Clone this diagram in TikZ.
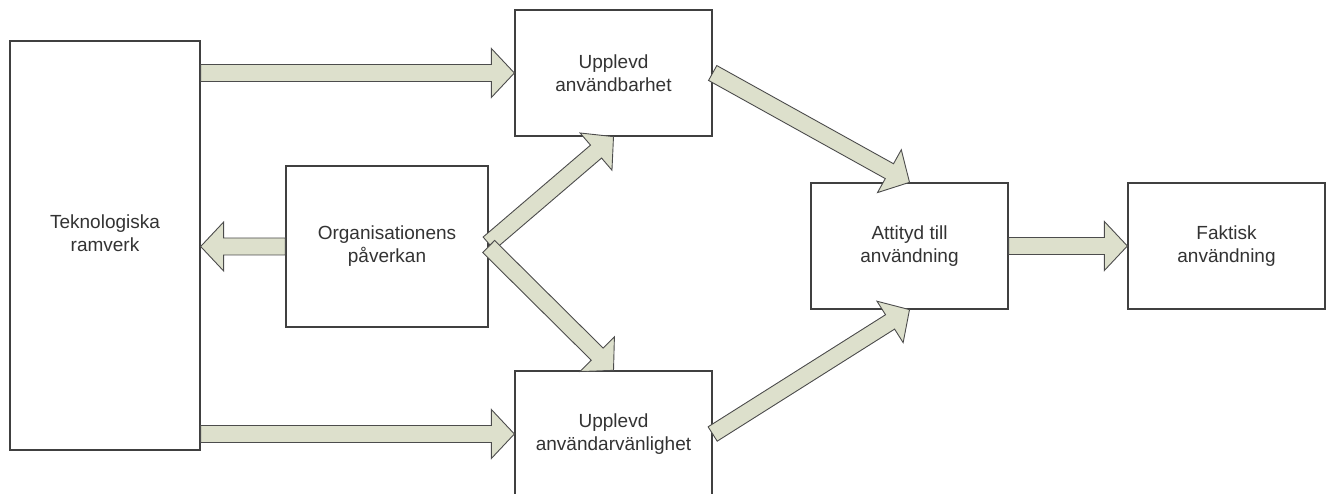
\documentclass[tikz,border=0pt]{standalone}
\usepackage{fontspec}
\setmainfont{Liberation Sans}
\usetikzlibrary{calc}

\definecolor{arrowfill}{RGB}{221,224,204}
\definecolor{boxline}{RGB}{64,64,64}

\newcommand{\fatarrow}[2]{%
	\coordinate (fabase) at ($(#2)!23pt!(#1)$);
	\filldraw[fatarrow] ($(#1)!8.5pt!90:(#2)$) -- ($(fabase)!8.5pt!90:(#2)$) -- ($(fabase)!24.5pt!90:(#2)$) -- (#2)
		-- ($(fabase)!24.5pt!-90:(#2)$) -- ($(fabase)!8.5pt!-90:(#2)$) -- ($(#1)!8.5pt!-90:(#2)$) -- cycle;
}

\begin{document}
\begin{tikzpicture}[x=1pt, y=1pt,
	boxtext/.style={align=center, font=\fontsize{19}{23}\selectfont, text=black!80},
	box/.style={boxtext, draw=boxline, line width=1.3pt, fill=white, minimum width=197pt, minimum height=126pt},
	fatarrow/.style={fill=arrowfill, draw=black!70, line width=0.9pt, line join=miter}]
	\useasboundingbox (0,0) rectangle (1327,494);

	\node[box, minimum width=190pt, minimum height=409pt] (tek) at (105,248.5) {};
	\node[boxtext] (tektext) at (105,261) {Teknologiska\\ramverk};
	\node[box, minimum width=202pt, minimum height=161pt] (org) at (387,247.5) {Organisationens\\påverkan};
	\node[box] (ua) at (613.5,421) {Upplevd\\användbarhet};
	\node[box] (uv) at (613.5,60) {Upplevd\\användarvänlighet};
	\node[box] (att) at (909.5,248) {Attityd till\\användning};
	\node[box] (fak) at (1226.5,248) {Faktisk\\användning};

	\coordinate (tekua) at (tek.east |- ua.west);
	\coordinate (tekuv) at (tek.east |- uv.west);
	\coordinate (tekorg) at (tek.east |- org.west);
	\coordinate (orgup) at ($(org.east)+(0,3)$);

	\fatarrow{tekua}{ua.west}
	\fatarrow{tekuv}{uv.west}
	\fatarrow{org.west}{tekorg}
	\fatarrow{orgup}{ua.south}
	\fatarrow{org.east}{uv.north}
	\fatarrow{ua.east}{att.north}
	\fatarrow{uv.east}{att.south}
	\fatarrow{att.east}{fak.west}
\end{tikzpicture}
\end{document}
